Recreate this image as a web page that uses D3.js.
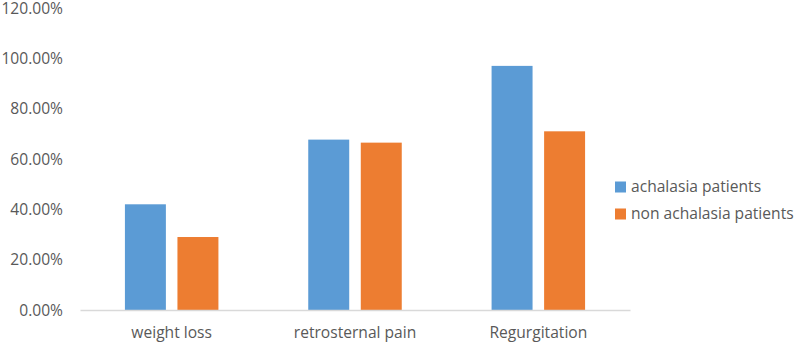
<!DOCTYPE html>
<html>
<head>
<meta charset="utf-8">
<script src="https://cdn.jsdelivr.net/npm/d3@7"></script>
<style>
  body { margin: 0; background: #fff; }
  svg { display: block; font-family: "Open Sans", "Liberation Sans", sans-serif; }
</style>
</head>
<body>
<div id="chart"></div>
<script>
// Data
const categories = ["weight loss", "retrosternal pain", "Regurgitation"];
const seriesNames = ["achalasia patients", "non achalasia patients"];
const achalasia = [0.42, 0.677, 0.97];
const nonAchalasia = [0.29, 0.665, 0.71];
const yTicks = [0, 0.2, 0.4, 0.6, 0.8, 1.0, 1.2];
const colors = ["#5B9BD5", "#ED7D31"];

const width = 800, height = 344;
const margin = {top: 8, right: 170, bottom: 34, left: 80};
const fontSize = "15.6px";

const rows = categories.map((c, i) => ({cat: c, values: [achalasia[i], nonAchalasia[i]]}));

const svg = d3.select("#chart").append("svg")
    .attr("width", width)
    .attr("height", height);

const x = d3.scaleBand()
    .domain(categories)
    .range([margin.left, width - margin.right])
    .paddingInner(0.49)
    .paddingOuter(0.245);

const xInner = d3.scaleBand()
    .domain(d3.range(seriesNames.length))
    .range([0, x.bandwidth()])
    .paddingInner(0.22);

const y = d3.scaleLinear()
    .domain([0, 1.2])
    .range([height - margin.bottom, margin.top]);

// y axis labels
const yAxis = d3.axisLeft(y)
    .tickValues(yTicks)
    .tickFormat(d => (d * 100).toFixed(2) + "%")
    .tickSize(0)
    .tickPadding(17);

svg.append("g")
    .attr("transform", `translate(${margin.left},0)`)
    .call(yAxis)
    .call(g => g.select(".domain").remove())
    .call(g => g.selectAll("text")
        .attr("fill", "#595959")
        .style("font-size", fontSize)
        .style("font-family", "'Open Sans', sans-serif"));

// bars
const group = svg.append("g").selectAll("g")
    .data(rows)
    .join("g")
    .attr("transform", d => `translate(${x(d.cat)},0)`);

group.selectAll("rect")
    .data(d => d.values.map((v, i) => ({v, i})))
    .join("rect")
    .attr("x", d => xInner(d.i))
    .attr("y", d => y(d.v))
    .attr("width", xInner.bandwidth())
    .attr("height", d => y(0) - y(d.v))
    .attr("fill", d => colors[d.i]);

// x axis
const xAxis = d3.axisBottom(x).tickSize(0).tickPadding(17);
svg.append("g")
    .attr("transform", `translate(0,${y(0)})`)
    .call(xAxis)
    .call(g => g.select(".domain").attr("stroke", "#d9d9d9").attr("stroke-width", 1.5))
    .call(g => g.selectAll("text")
        .attr("fill", "#595959")
        .style("font-size", fontSize)
        .style("font-family", "'Open Sans', sans-serif"));

// legend
const legend = svg.append("g")
    .attr("transform", `translate(615,187)`);

const item = legend.selectAll("g")
    .data(seriesNames)
    .join("g")
    .attr("transform", (d, i) => `translate(0,${i * 27})`);

item.append("rect")
    .attr("x", 0)
    .attr("y", -5.5)
    .attr("width", 11)
    .attr("height", 11)
    .attr("fill", (d, i) => colors[i]);

item.append("text")
    .attr("x", 16)
    .attr("y", 0)
    .attr("dy", "0.35em")
    .attr("fill", "#595959")
    .style("font-size", fontSize)
    .text(d => d);
</script>
</body>
</html>
